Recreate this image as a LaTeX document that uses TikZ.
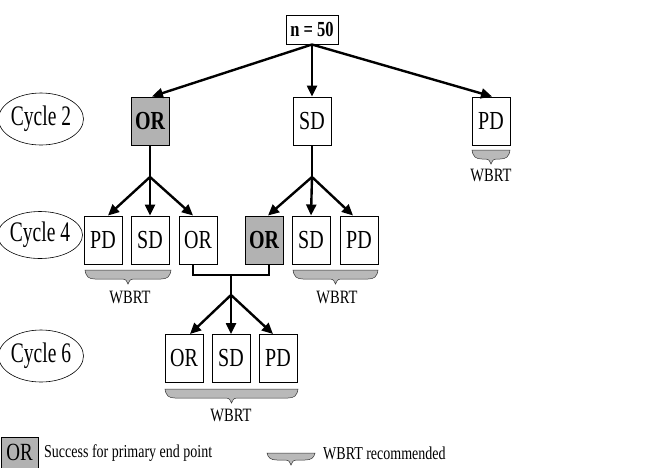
\documentclass[tikz,border=0pt]{standalone}
\usepackage{fontspec}
\usepackage{graphicx}
\setmainfont{Liberation Serif}
\usetikzlibrary{arrows.meta,shapes.geometric}
\newcommand\vstr[1]{\scalebox{1}[1.3]{#1}}
\newcommand\vstrc[1]{\scalebox{1}[1.45]{#1}}
\newcommand\wbrace[4]{% x1, x2, y0, depth
  \pgfmathsetmacro\bm{(#1+#2)/2}
  \filldraw[fill=gray!55, draw=gray!40!black, line width=0.5pt]
    (#1,#3) -- (#2,#3)
    .. controls (#2-1,#3+#4-2) and (#2-4,#3+#4) .. (#2-10,#3+#4)
    -- (\bm+6,#3+#4)
    .. controls (\bm+2,#3+#4) and (\bm+1,#3+#4+2) .. (\bm,#3+#4+5)
    .. controls (\bm-1,#3+#4+2) and (\bm-2,#3+#4) .. (\bm-6,#3+#4)
    -- (#1+10,#3+#4)
    .. controls (#1+4,#3+#4) and (#1+1,#3+#4-2) .. (#1,#3) -- cycle;}
\tikzset{
  box/.style={draw, line width=1pt, minimum width=38pt, minimum height=48pt, inner sep=0pt, fill=white, font=\fontsize{20}{20}\selectfont},
  okbox/.style={box, fill=gray!60, font=\fontsize{20}{20}\selectfont\bfseries},
  cyc/.style={draw, ellipse, line width=0.6pt, minimum width=67pt, minimum height=52pt, inner sep=0pt, font=\fontsize{19.5}{19.5}\selectfont},
  conn/.style={line width=2.4pt},
  arr/.style={conn, -{Triangle[length=11pt,width=10pt]}},
  lbl/.style={font=\fontsize{14.5}{14.5}\selectfont, inner sep=0pt},
}
\begin{document}
\begin{tikzpicture}[x=1pt,y=-1pt]
\useasboundingbox (0,0) rectangle (657,467);
% top
\node[draw, line width=1pt, minimum width=52pt, minimum height=29pt, inner sep=0pt, font=\fontsize{16.5}{16.5}\selectfont\bfseries] (top) at (312,29.5) {\vstr{n = 50}};
% cycle labels
\node[cyc] (cy2) at (41,119) {\vstrc{Cycle 2}};
\node[cyc, minimum height=47pt, minimum width=64pt] (cy4) at (40,235) {\vstrc{Cycle 4}};
\node[cyc] (cy6) at (41,356) {\vstrc{Cycle 6}};
% cycle 2
\node[okbox] (or2) at (150,121) {\vstr{OR}};
\node[box] (sd2) at (312,121) {\vstr{SD}};
\node[box] (pd2) at (491,121) {\vstr{PD}};
% cycle 4
\node[box] (pd4a) at (103,240) {\vstr{PD}};
\node[box] (sd4a) at (150,240) {\vstr{SD}};
\node[box] (or4a) at (198,240) {\vstr{OR}};
\node[okbox] (or4b) at (264,240) {\vstr{OR}};
\node[box] (sd4b) at (311,240) {\vstr{SD}};
\node[box] (pd4b) at (359,240) {\vstr{PD}};
% cycle 6
\node[box] (or6) at (184,358.5) {\vstr{OR}};
\node[box] (sd6) at (231,358.5) {\vstr{SD}};
\node[box] (pd6) at (278,358.5) {\vstr{PD}};
% junctions
\coordinate (ja) at (150,177);
\coordinate (jb) at (312,177);
\coordinate (bm) at (231,275);
\coordinate (jc) at (231,295);
% arrows top
\draw[arr] (top.south) -- ([xshift=2pt]or2.north);
\draw[arr] (top.south) -- (sd2.north);
\draw[arr] (top.south) -- ([xshift=1pt]pd2.north);
% cycle 2 -> 4
\draw[conn] (or2.south) -- (ja);
\draw[arr] (ja) -- ([xshift=5pt]pd4a.north);
\draw[arr] (ja) -- (sd4a.north);
\draw[arr] (ja) -- ([xshift=-5pt]or4a.north);
\draw[conn] (sd2.south) -- (jb);
\draw[arr] (jb) -- ([xshift=4pt]or4b.north);
\draw[arr] (jb) -- (sd4b.north);
\draw[arr] (jb) -- ([xshift=-6pt]pd4b.north);
% bracket cycle 4 -> 6
\draw[conn, line cap=butt] ([xshift=-5pt]or4a.south) |- (bm) -| ([xshift=5pt]or4b.south);
\draw[conn] (bm) -- (jc);
\draw[arr] (jc) -- ([xshift=6pt]or6.north);
\draw[arr] (jc) -- (sd6.north);
\draw[arr] (jc) -- ([xshift=-5pt]pd6.north);
% braces
\wbrace{472}{510}{150}{9}
\node[lbl] (w1) at (491,175) {\vstr{WBRT}};
\wbrace{85}{171}{270}{9}
\node[lbl] (w2) at (130,297) {\vstr{WBRT}};
\wbrace{293}{378}{270}{9}
\node[lbl] (w3) at (337,297) {\vstr{WBRT}};
\wbrace{165}{298}{389}{9}
\node[lbl] (w4) at (231,415) {\vstr{WBRT}};
% legend
\node[okbox, font=\fontsize{19}{19}\selectfont, minimum width=37pt, minimum height=31pt] (lg) at (19.5,452.5) {\vstr{OR}};
\node[lbl, anchor=west, font=\fontsize{14}{14}\selectfont] (lt) at (44,453) {\vstr{Success for primary end point}};
\wbrace{267}{315}{453}{7}
\node[lbl, anchor=west, font=\fontsize{14}{14}\selectfont] (lw) at (323,453) {\vstr{WBRT recommended}};
\end{tikzpicture}
\end{document}
